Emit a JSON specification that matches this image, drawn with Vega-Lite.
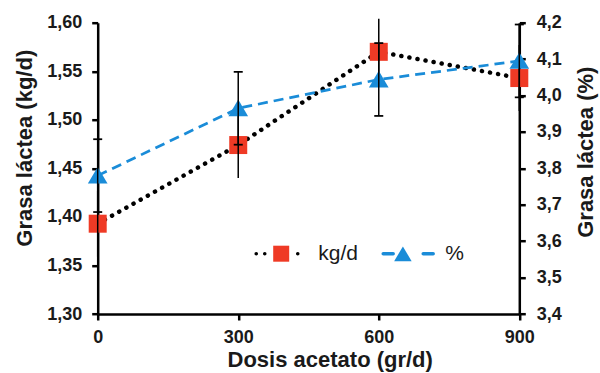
{
  "$schema": "https://vega.github.io/schema/vega-lite/v6.json",
  "width": 421.6,
  "height": 291.3,
  "autosize": {"type": "none"},
  "padding": {"left": 97.7, "top": 22.7, "right": 80.7, "bottom": 59},
  "background": "white",
  "config": {
    "view": {"stroke": null},
    "font": "Liberation Sans",
    "axis": {
      "grid": false,
      "domainColor": "black",
      "domainWidth": 2.5,
      "tickColor": "black",
      "tickWidth": 2.5,
      "tickSize": 6,
      "labelFont": "Liberation Sans",
      "labelFontSize": 18,
      "labelFontWeight": "bold",
      "labelColor": "#1a1a1a",
      "titleFont": "Liberation Sans",
      "titleFontSize": 22,
      "titleFontWeight": "bold",
      "titleColor": "#1a1a1a"
    }
  },
  "encoding": {
    "x": {
      "field": "dose",
      "type": "quantitative",
      "scale": {"domain": [0, 900], "nice": false, "zero": false},
      "axis": {
        "values": [0, 300, 600, 900],
        "format": "d",
        "labelFlush": false,
        "labelPadding": 8,
        "title": "Dosis acetato (gr/d)",
        "titleX": 232,
        "titleY": 52,
        "titleAlign": "center",
        "titleBaseline": "alphabetic"
      }
    }
  },
  "layer": [
    {
      "data": {
        "values": [
          {"series": "kg/d", "dose": 0, "value": 1.393, "lo": 1.359, "hi": 1.427},
          {"series": "kg/d", "dose": 300, "value": 1.474, "lo": 1.44, "hi": 1.508},
          {"series": "kg/d", "dose": 600, "value": 1.57, "lo": 1.536, "hi": 1.604},
          {"series": "kg/d", "dose": 900, "value": 1.543, "lo": 1.509, "hi": 1.577}
        ]
      },
      "encoding": {
        "y": {
          "field": "value",
          "type": "quantitative",
          "scale": {"domain": [1.3, 1.6], "nice": false, "zero": false},
          "axis": {
            "orient": "left",
            "values": [1.3, 1.35, 1.4, 1.45, 1.5, 1.55, 1.6],
            "labelExpr": "replace(format(datum.value, '.2f'), '.', ',')",
            "labelPadding": 10,
            "title": "Grasa láctea (kg/d)",
            "titleAngle": 270,
            "titleX": -73,
            "titleY": 125,
            "titleAlign": "center",
            "titleBaseline": "middle"
          }
        }
      },
      "layer": [
        {
          "mark": {"type": "line", "strokeWidth": 4.5, "strokeCap": "round", "strokeDash": [0.1, 8.1]},
          "encoding": {
            "stroke": {
              "field": "series",
              "type": "nominal",
              "scale": {"domain": ["kg/d", "%"], "range": ["black", "#1A8CD8"]},
              "legend": {
                "title": null, "orient": "none", "direction": "horizontal",
                "legendX": 156.5, "legendY": 204,
                "symbolType": "stroke", "symbolSize": 2500, "symbolStrokeWidth": 3.5,
                "labelFont": "Liberation Sans", "labelFontSize": 21, "labelFontWeight": "normal",
                "labelColor": "#1a1a1a", "labelOffset": 10, "columnPadding": 18, "padding": 0,
                "encode": {"symbols": {"update": {
                  "strokeDash": {"signal": "datum.value === '%' ? [10, 30, 10, 100] : [0.1, 8.4, 0.1, 32.9, 0.1, 8.4, 0.1, 100]"},
                  "strokeCap": {"value": "round"}
                }}}
              }
            }
          }
        },
        {
          "mark": {"type": "point", "filled": true, "size": 3164, "opacity": 1},
          "encoding": {
            "fill": {
              "field": "series",
              "type": "nominal",
              "sort": "descending",
              "scale": {"range": ["#EF3A25", "#1A8CD8"]},
              "legend": {
                "title": null, "orient": "none", "direction": "horizontal",
                "legendX": 156.5, "legendY": 204,
                "symbolSize": 2500, "symbolStrokeWidth": 3.5, "symbolStrokeColor": "transparent", "symbolOpacity": 1,
                "labelFont": "Liberation Sans", "labelFontSize": 21, "labelFontWeight": "normal",
                "labelExpr": "''", "labelOffset": 10, "columnPadding": 57.7, "padding": 0
              }
            },
            "shape": {
              "field": "series",
              "type": "nominal",
              "sort": "descending",
              "scale": {"range": ["M-0.32,-0.32H0.32V0.32H-0.32Z", "M0,-0.31L0.35,0.28L-0.35,0.28Z"]},
              "legend": {
                "title": null, "orient": "none", "direction": "horizontal",
                "legendX": 156.5, "legendY": 204,
                "symbolSize": 2500, "symbolStrokeWidth": 3.5, "symbolStrokeColor": "transparent", "symbolOpacity": 1,
                "labelFont": "Liberation Sans", "labelFontSize": 21, "labelFontWeight": "normal",
                "labelExpr": "''", "labelOffset": 10, "columnPadding": 57.7, "padding": 0
              }
            }
          }
        },
        {
          "mark": {"type": "rule", "color": "black", "strokeWidth": 1.5},
          "encoding": {
            "y": {
              "field": "lo",
              "type": "quantitative",
              "scale": {"domain": [1.3, 1.6], "nice": false, "zero": false},
              "axis": {
                "orient": "left",
                "values": [1.3, 1.35, 1.4, 1.45, 1.5, 1.55, 1.6],
                "labelExpr": "replace(format(datum.value, '.2f'), '.', ',')",
                "labelPadding": 10,
                "title": "Grasa láctea (kg/d)",
                "titleAngle": 270,
                "titleX": -73,
                "titleY": 125,
                "titleAlign": "center",
                "titleBaseline": "middle"
              }
            },
            "y2": {"field": "hi"}
          }
        }
      ]
    },
    {
      "data": {
        "values": [
          {"series": "%", "dose": 0, "value": 3.78, "lo": 3.68, "hi": 3.88},
          {"series": "%", "dose": 300, "value": 3.965, "lo": 3.865, "hi": 4.065},
          {"series": "%", "dose": 600, "value": 4.044, "lo": 3.944, "hi": 4.144},
          {"series": "%", "dose": 900, "value": 4.095, "lo": 3.995, "hi": 4.195}
        ]
      },
      "encoding": {
        "y": {
          "field": "value",
          "type": "quantitative",
          "scale": {"domain": [3.4, 4.2], "nice": false, "zero": false},
          "axis": {
            "orient": "right",
            "values": [3.4, 3.5, 3.6, 3.7, 3.8, 3.9, 4.0, 4.1, 4.2],
            "labelExpr": "replace(format(datum.value, '.1f'), '.', ',')",
            "labelPadding": 11,
            "title": "Grasa láctea (%)",
            "titleAngle": 270,
            "titleX": 66,
            "titleY": 129,
            "titleAlign": "center",
            "titleBaseline": "middle"
          }
        }
      },
      "layer": [
        {
          "mark": {"type": "line", "strokeWidth": 2.75, "strokeCap": "butt", "strokeDash": [10, 6]},
          "encoding": {
            "stroke": {
              "field": "series",
              "type": "nominal",
              "scale": {"domain": ["kg/d", "%"], "range": ["black", "#1A8CD8"]},
              "legend": {
                "title": null, "orient": "none", "direction": "horizontal",
                "legendX": 156.5, "legendY": 204,
                "symbolType": "stroke", "symbolSize": 2500, "symbolStrokeWidth": 3.5,
                "labelFont": "Liberation Sans", "labelFontSize": 21, "labelFontWeight": "normal",
                "labelColor": "#1a1a1a", "labelOffset": 10, "columnPadding": 18, "padding": 0,
                "encode": {"symbols": {"update": {
                  "strokeDash": {"signal": "datum.value === '%' ? [10, 30, 10, 100] : [0.1, 8.4, 0.1, 32.9, 0.1, 8.4, 0.1, 100]"},
                  "strokeCap": {"value": "round"}
                }}}
              }
            }
          }
        },
        {
          "mark": {"type": "point", "filled": true, "size": 3164, "opacity": 1},
          "encoding": {
            "fill": {
              "field": "series",
              "type": "nominal",
              "sort": "descending",
              "scale": {"range": ["#EF3A25", "#1A8CD8"]},
              "legend": {
                "title": null, "orient": "none", "direction": "horizontal",
                "legendX": 156.5, "legendY": 204,
                "symbolSize": 2500, "symbolStrokeWidth": 3.5, "symbolStrokeColor": "transparent", "symbolOpacity": 1,
                "labelFont": "Liberation Sans", "labelFontSize": 21, "labelFontWeight": "normal",
                "labelExpr": "''", "labelOffset": 10, "columnPadding": 57.7, "padding": 0
              }
            },
            "shape": {
              "field": "series",
              "type": "nominal",
              "sort": "descending",
              "scale": {"range": ["M-0.32,-0.32H0.32V0.32H-0.32Z", "M0,-0.31L0.35,0.28L-0.35,0.28Z"]},
              "legend": {
                "title": null, "orient": "none", "direction": "horizontal",
                "legendX": 156.5, "legendY": 204,
                "symbolSize": 2500, "symbolStrokeWidth": 3.5, "symbolStrokeColor": "transparent", "symbolOpacity": 1,
                "labelFont": "Liberation Sans", "labelFontSize": 21, "labelFontWeight": "normal",
                "labelExpr": "''", "labelOffset": 10, "columnPadding": 57.7, "padding": 0
              }
            }
          }
        },
        {
          "mark": {"type": "rule", "color": "black", "strokeWidth": 1.5},
          "encoding": {
            "y": {
              "field": "lo",
              "type": "quantitative",
              "scale": {"domain": [3.4, 4.2], "nice": false, "zero": false},
              "axis": {
                "orient": "right",
                "values": [3.4, 3.5, 3.6, 3.7, 3.8, 3.9, 4.0, 4.1, 4.2],
                "labelExpr": "replace(format(datum.value, '.1f'), '.', ',')",
                "labelPadding": 11,
                "title": "Grasa láctea (%)",
                "titleAngle": 270,
                "titleX": 66,
                "titleY": 129,
                "titleAlign": "center",
                "titleBaseline": "middle"
              }
            },
            "y2": {"field": "hi"}
          }
        },
        {
          "mark": {"type": "tick", "orient": "horizontal", "size": 9, "thickness": 1.75, "color": "black", "opacity": 1},
          "encoding": {
            "y": {
              "field": "lo",
              "type": "quantitative",
              "scale": {"domain": [3.4, 4.2], "nice": false, "zero": false},
              "axis": {
                "orient": "right",
                "values": [3.4, 3.5, 3.6, 3.7, 3.8, 3.9, 4.0, 4.1, 4.2],
                "labelExpr": "replace(format(datum.value, '.1f'), '.', ',')",
                "labelPadding": 11,
                "title": "Grasa láctea (%)",
                "titleAngle": 270,
                "titleX": 66,
                "titleY": 129,
                "titleAlign": "center",
                "titleBaseline": "middle"
              }
            }
          }
        },
        {
          "mark": {"type": "tick", "orient": "horizontal", "size": 9, "thickness": 1.75, "color": "black", "opacity": 1},
          "encoding": {
            "y": {
              "field": "hi",
              "type": "quantitative",
              "scale": {"domain": [3.4, 4.2], "nice": false, "zero": false},
              "axis": {
                "orient": "right",
                "values": [3.4, 3.5, 3.6, 3.7, 3.8, 3.9, 4.0, 4.1, 4.2],
                "labelExpr": "replace(format(datum.value, '.1f'), '.', ',')",
                "labelPadding": 11,
                "title": "Grasa láctea (%)",
                "titleAngle": 270,
                "titleX": 66,
                "titleY": 129,
                "titleAlign": "center",
                "titleBaseline": "middle"
              }
            }
          }
        }
      ]
    }
  ],
  "resolve": {"scale": {"y": "independent"}}
}
